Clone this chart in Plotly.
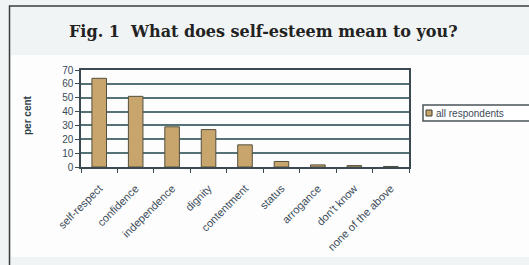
import plotly.graph_objects as go

categories = ["self-respect", "confidence", "independence", "dignity", "contentment",
              "status", "arrogance", "don't know", "none of the above"]
values = [64, 51, 29, 27, 16, 4, 1.5, 1, 0.4]
y_ticks = [0, 10, 20, 30, 40, 50, 60, 70]
series_name = "all respondents"
title_text = "Fig. 1  What does self-esteem mean to you?"

W, H = 529, 265
L, R, T, B = 81, 409, 70, 167   # plot area in pixels
pw, ph = R - L, B - T

def px(x):
    return (x - L) / pw

def py(y):
    return (B - y) / ph

fig = go.Figure()
fig.add_trace(go.Bar(
    x=categories, y=values, name=series_name, width=0.4,
    marker=dict(color="#c8a56c", line=dict(color="#54503e", width=1)),
    showlegend=False,
))

shapes = [
    # white chart panel
    dict(type="rect", xref="paper", yref="paper", x0=px(11), x1=px(540), y0=py(55), y1=py(257),
         fillcolor="#fdfdfd", line=dict(width=0), layer="below"),
    # outer frame
    dict(type="rect", xref="paper", yref="paper", x0=px(9.5), x1=px(560), y0=py(6), y1=py(300),
         fillcolor="rgba(0,0,0,0)", line=dict(color="#3c3c3c", width=1.5), layer="above"),
    # legend box
    dict(type="rect", xref="paper", yref="paper", x0=px(423), x1=px(545), y0=py(105), y1=py(121),
         fillcolor="#ffffff", line=dict(color="#4a5458", width=1.5), layer="above"),
    # legend swatch
    dict(type="rect", xref="paper", yref="paper", x0=px(426), x1=px(432), y0=py(110), y1=py(116),
         fillcolor="#c8a56c", line=dict(color="#3c3c30", width=1), layer="above"),
]

annotations = [
    dict(text="<b>" + title_text + "</b>", xref="paper", yref="paper", x=px(263), y=py(31),
         xanchor="center", yanchor="middle", showarrow=False,
         font=dict(family="DejaVu Serif", size=16, color="#222222")),
    dict(text="<b>per cent</b>", xref="paper", yref="paper", x=px(27), y=py(115),
         xanchor="center", yanchor="middle", showarrow=False, textangle=-90,
         font=dict(family="Liberation Sans", size=10, color="#2e3e48")),
    dict(text=series_name, xref="paper", yref="paper", x=px(434), y=py(113.5),
         xanchor="left", yanchor="middle", showarrow=False,
         font=dict(family="Liberation Sans", size=10, color="#3a4a58")),
]

fig.update_layout(
    width=W, height=H,
    margin=dict(l=L, r=W - R, t=T, b=H - B, pad=0),
    paper_bgcolor="#f1f4f4",
    plot_bgcolor="#e8decb",
    shapes=shapes,
    annotations=annotations,
    bargap=0.6,
    font=dict(family="Liberation Sans", size=10, color="#3a4a58"),
)
fig.update_xaxes(
    tickangle=-45, tickfont=dict(size=11, color="#3a4a58"),
    ticks="outside", ticklen=4, tickcolor="#3a4a50", tickson="boundaries",
    ticklabelstandoff=9,
    showline=True, linecolor="#3a4a50", linewidth=1.5, mirror=True, showgrid=False,
)
fig.update_yaxes(
    range=[0, 70], tickvals=y_ticks, tickfont=dict(size=10, color="#3a4a58"),
    ticks="outside", ticklen=4, tickcolor="#3a4a50",
    showline=True, linecolor="#3a4a50", linewidth=1.5, mirror=True,
    showgrid=True, gridcolor="#557276", gridwidth=1.5, zeroline=False,
)

fig.write_html("out.html", config={"displayModeBar": False},
               post_script="document.body.style.margin='0px';")
